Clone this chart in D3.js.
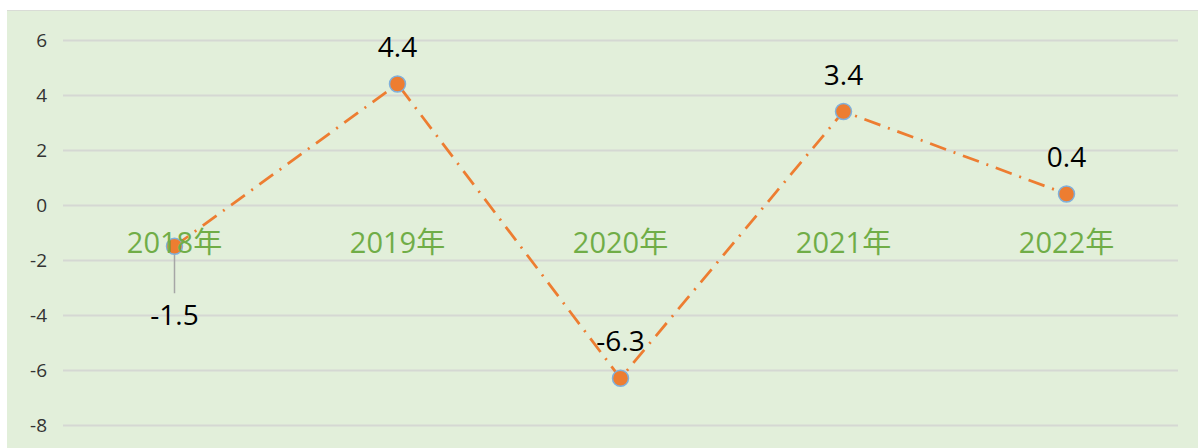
<!DOCTYPE html>
<html>
  <head>
    <style>
      body { margin: 0; background: #fff; }
      text { font-family: "Open Sans", "Noto Sans CJK SC", sans-serif; }
    </style>
  </head>

  <body>

    <svg class="surface" width="1198" height="448"></svg>

    <script src="https://cdn.jsdelivr.net/npm/d3@7/dist/d3.min.js" charset="utf-8"></script>
    <script>

      const years = ['2018年', '2019年', '2020年', '2021年', '2022年']
      const growth = [-1.5, 4.4, -6.3, 3.4, 0.4]
      const yTicks = [6, 4, 2, 0, -2, -4, -6, -8]

      const svg = d3.select('.surface')

      // chart area
      svg.append('rect')
        .attr('x', 7).attr('y', 10)
        .attr('width', 1191).attr('height', 438)
        .attr('fill', '#e2efda')
      svg.append('line')
        .attr('x1', 7).attr('x2', 1198)
        .attr('y1', 10.5).attr('y2', 10.5)
        .attr('stroke', '#d9dcd6')

      const x = d3.scalePoint().domain(years).range([63, 1178]).padding(0.5)
      const y = d3.scaleLinear().domain([-8, 6]).range([425, 40])

      // gridlines + tick labels (plain hyphen minus, like the source)
      const yAxis = d3.axisLeft(y)
        .tickValues(yTicks)
        .tickFormat(d => String(d))
        .tickSize(-(1178 - 63))
        .tickPadding(16)
      const ga = svg.append('g').attr('transform', 'translate(63,0)').call(yAxis)
      ga.select('.domain').remove()
      ga.selectAll('.tick line').attr('stroke', '#d5d8d3').attr('stroke-width', 2)
      ga.selectAll('.tick text')
        .attr('fill', '#333')
        .style('font-size', '19px')

      // line
      const line = d3.line()
        .x((d, i) => x(years[i]))
        .y(d => y(d))

      svg.append('path')
        .datum(growth)
        .attr('d', line)
        .attr('fill', 'none')
        .attr('stroke', '#ed7d31')
        .attr('stroke-width', 2.75)
        .attr('stroke-dasharray', '17,8,2,8')

      // leader line for the first label
      svg.append('line')
        .attr('x1', x(years[0])).attr('x2', x(years[0]))
        .attr('y1', y(growth[0]) + 6).attr('y2', y(growth[0]) + 47)
        .attr('stroke', '#a6a6a6')
        .attr('stroke-width', 1.5)

      // markers
      svg.selectAll('circle.pt')
        .data(growth)
        .enter()
        .append('circle')
        .attr('class', 'pt')
        .attr('cx', (d, i) => x(years[i]))
        .attr('cy', d => y(d))
        .attr('r', 8)
        .attr('fill', '#ed7d31')
        .attr('stroke', '#7fb0dc')
        .attr('stroke-width', 1.5)

      // category labels sit on the zero line
      svg.selectAll('text.cat')
        .data(years)
        .enter()
        .append('text')
        .attr('class', 'cat')
        .attr('x', d => x(d))
        .attr('y', y(0) + 48)
        .attr('text-anchor', 'middle')
        .attr('fill', '#70ad47')
        .style('font-size', '29px')
        .text(d => d)

      // value labels
      svg.selectAll('text.val')
        .data(growth)
        .enter()
        .append('text')
        .attr('class', 'val')
        .attr('x', (d, i) => x(years[i]))
        .attr('y', (d, i) => i === 0 ? y(d) + 79 : y(d) - 27)
        .attr('text-anchor', 'middle')
        .attr('fill', '#000')
        .style('font-size', '28px')
        .text(d => d)

    </script>
  </body>

</html>
